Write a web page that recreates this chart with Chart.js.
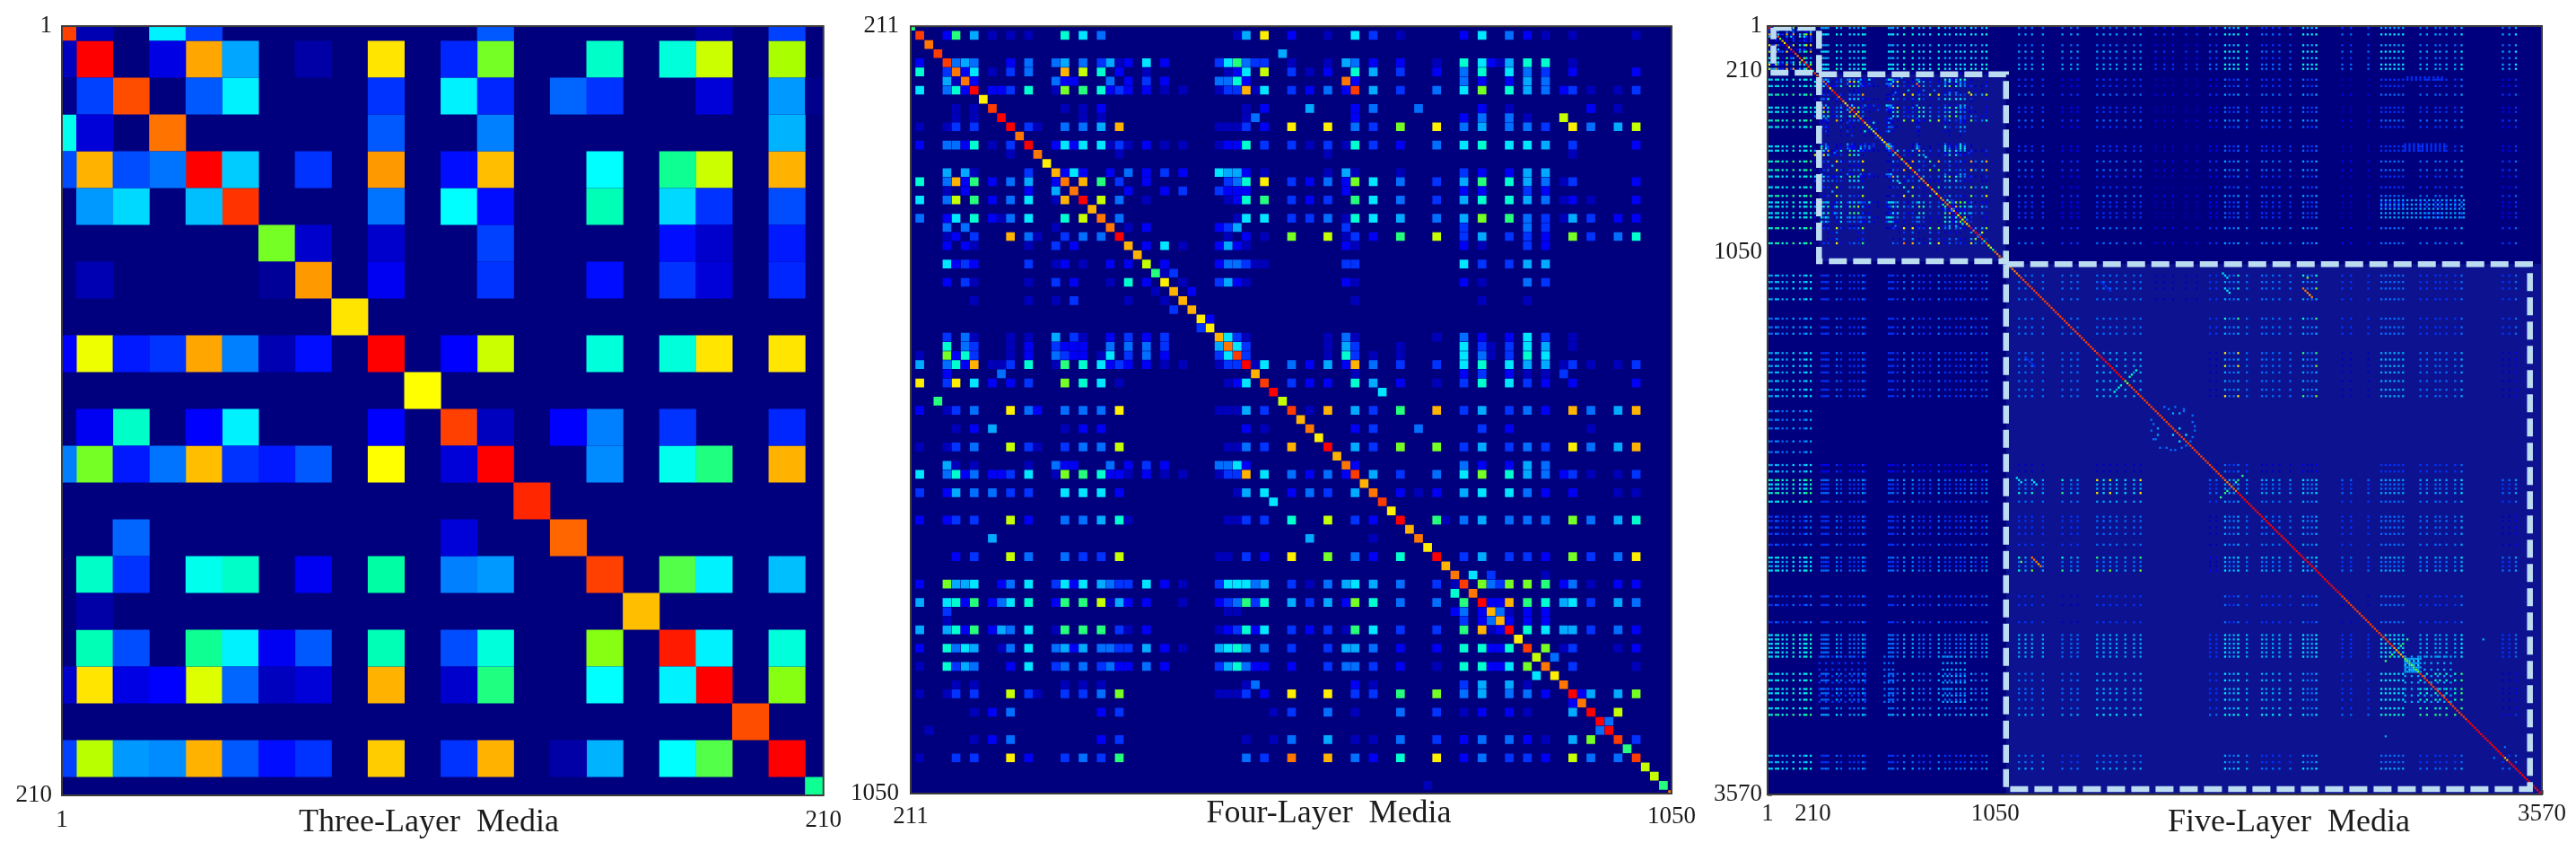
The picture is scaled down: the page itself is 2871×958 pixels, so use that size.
<!DOCTYPE html>
<html>
<head>
<meta charset="utf-8">
<title>Layered media matrices</title>
<script src="https://cdn.jsdelivr.net/npm/chart.js@4"></script>
<style>
  html, body { margin: 0; background: #fff; }
  body { position: relative; width: 2871px; height: 958px; overflow: hidden; }
  canvas { position: absolute; top: 0; filter: blur(0.6px); }
  #five { filter: blur(0.7px); }
</style>
</head>
<body>
<canvas id="three" width="950" height="958" style="left:0"></canvas>
<canvas id="four" width="950" height="958" style="left:950px"></canvas>
<canvas id="five" width="971" height="958" style="left:1900px"></canvas>
<script>
/* tick labels */
const threeTicks = [1, 210];
const fourTicks = [211, 1050];
const fiveTicks = [1, 210, 1050, 3570];

/* Three-layer matrix, one list per row: column, level, column, level ... (levels 0-70) */
const threeLayerRows = [
  [0,65,1,4,2,1,3,29,4,15,9,10,12,17,18,3,20,15],
  [0,5,1,70,2,16,3,8,4,57,5,23,7,3,9,52,11,13,12,42,15,33,16,1,17,32,18,47,20,45,21,1],
  [0,1,1,15,2,64,4,17,5,29,9,14,11,29,12,13,14,18,15,14,17,16,18,7,20,22,21,1],
  [0,31,1,7,3,61,4,16,9,17,12,20,18,10,20,24],
  [0,16,1,56,2,16,3,19,4,70,5,26,6,10,7,14,9,58,11,11,12,55,15,30,17,36,18,47,20,56],
  [0,1,1,22,2,27,4,25,5,66,9,19,11,30,12,11,15,34,17,27,18,14,20,16],
  [4,10,6,42,7,6,9,6,12,15,17,11,18,6,20,12],
  [1,4,4,10,6,2,7,58,9,9,12,14,15,11,17,14,18,7,20,13],
  [8,52],
  [0,10,1,49,2,12,3,14,4,57,5,20,6,4,7,11,9,70,11,10,12,47,15,32,17,32,18,52,20,52],
  [10,50],
  [1,9,2,33,4,10,5,29,9,10,11,65,12,5,14,10,15,20,17,14,20,13],
  [0,20,1,42,2,12,3,19,4,55,5,14,6,12,7,17,9,50,11,7,12,70,15,21,17,31,18,37,20,56],
  [13,67],
  [2,18,11,7,14,62],
  [1,33,2,14,4,31,5,33,7,9,9,35,11,20,12,22,15,65,17,40,18,29,20,25],
  [1,3,16,55,18,1],
  [1,34,2,16,4,36,5,29,6,9,7,17,9,34,11,16,12,32,15,43,17,68,18,29,20,32],
  [0,6,1,52,2,8,3,10,4,48,5,18,6,5,7,7,9,56,11,6,12,37,15,30,17,29,18,70,20,43],
  [19,64],
  [0,15,1,46,2,22,3,21,4,56,5,17,6,11,7,14,9,54,11,14,12,56,14,3,15,24,17,30,18,40,20,70],
  [21,36]
];

/* Four-layer matrix, same layout, levels 0-15 */
const fourLayerRows = [
  [0,8],
  [1,14,4,2,5,8,7,5,9,1,11,1,13,1,17,7,19,6,21,4,36,1,37,5,39,11,42,2,46,1,49,6,51,3,54,1,61,2,63,6,66,4,68,2,70,1,73,1,80,1],
  [2,13],
  [3,14,41,5],
  [1,2,4,14,5,4,6,5,7,4,11,2,13,4,16,4,17,5,19,4,21,3,22,5,23,1,24,2,26,6,28,2,34,3,35,6,36,8,37,4,38,3,39,3,42,1,46,1,48,5,49,4,51,2,54,2,58,1,61,7,63,6,64,2,65,1,66,5,68,7,70,7,73,1],
  [1,7,4,3,5,13,6,2,7,6,9,1,11,3,13,4,17,12,19,10,21,7,23,2,26,1,35,1,36,2,37,6,39,10,42,3,44,1,46,2,49,7,51,5,54,3,58,2,61,4,63,7,66,6,68,4,70,3,73,2,80,2],
  [4,5,5,1,6,13,7,2,16,4,17,2,18,2,22,4,24,2,26,3,28,2,34,4,35,4,36,7,37,2,48,13,49,2,61,4,63,2,66,2,68,5,70,4],
  [1,6,4,4,5,7,6,2,7,15,9,2,10,2,11,3,13,7,16,1,17,9,19,8,21,7,22,2,23,3,24,2,26,2,28,1,30,1,34,1,35,3,36,3,37,12,38,1,39,6,42,3,44,2,46,4,48,2,49,14,51,5,54,3,58,4,61,6,63,9,66,7,68,5,70,4,72,2,73,3,75,1,78,1,80,3],
  [8,11],
  [5,1,7,1,9,14,17,1,19,1,21,2,37,1,39,2,44,5,49,2,51,4,56,4,63,2,66,1,75,2,78,1],
  [5,1,7,1,10,15,19,1,21,1,37,1,38,4,49,2,61,2,63,4,66,4,68,1,72,10],
  [1,1,4,1,5,3,7,3,11,15,13,3,14,1,17,4,19,4,21,5,23,12,34,1,35,1,36,1,37,3,39,2,42,11,46,11,49,4,51,3,54,9,58,11,61,4,63,5,66,4,68,4,70,3,73,11,75,4,78,5,80,10],
  [12,13],
  [1,2,4,4,5,4,6,2,7,7,9,1,11,3,13,15,16,2,17,6,18,2,19,6,21,6,22,1,23,3,24,1,26,2,28,1,30,1,34,1,35,2,36,2,37,7,39,3,42,3,44,1,46,3,48,1,49,7,51,3,54,2,58,4,61,6,63,7,66,6,68,6,70,5,73,3,80,2],
  [11,1,14,13,23,1,46,1,73,1],
  [15,11],
  [4,5,6,5,7,1,13,3,16,12,17,2,18,6,19,2,22,2,24,4,26,2,28,3,30,2,34,6,35,5,36,5,37,2,39,1,46,1,48,5,49,1,54,1,61,3,63,2,66,2,68,5,70,5],
  [1,7,4,4,5,12,6,2,7,8,9,2,11,4,13,5,16,2,17,13,19,12,21,8,23,3,26,2,35,3,36,4,37,7,39,11,42,3,44,2,46,4,48,2,49,9,51,6,54,4,58,3,61,5,63,8,66,7,68,5,70,4,72,1,73,3,80,2],
  [4,1,6,2,13,2,16,5,18,13,24,2,28,2,30,3,34,3,35,2,36,2,37,2,48,2,61,2,63,2,68,3,70,2],
  [1,6,4,4,5,10,7,8,9,2,11,4,13,6,16,1,17,12,19,15,21,10,23,4,26,1,35,1,36,2,37,7,39,8,42,3,44,2,46,3,49,8,51,6,54,4,58,3,61,5,63,7,66,7,68,5,70,4,72,1,73,2,75,1,80,2],
  [20,12],
  [1,4,4,2,5,6,7,7,9,2,10,1,11,4,13,6,17,7,19,10,21,13,23,4,36,1,37,6,39,6,42,3,44,3,46,4,48,1,49,7,51,6,54,5,58,4,61,5,63,9,66,8,68,4,70,3,72,1,73,5,75,3,78,2,80,2],
  [4,4,6,4,16,1,22,13,24,1,26,2,34,2,35,3,36,5,48,3,61,3,68,4,70,3],
  [4,1,5,2,7,3,11,12,13,4,14,1,17,3,19,4,21,4,23,15,35,1,37,2,39,1,42,9,46,10,48,1,49,3,51,2,54,8,58,10,61,3,63,5,66,3,68,3,70,2,73,9,75,3,78,4,80,7],
  [4,2,6,2,7,1,13,1,16,3,18,2,24,12,26,2,28,6,30,1,34,2,35,5,36,2,37,1,48,2,49,1,61,2,63,1,68,3,70,2],
  [25,12],
  [4,6,5,2,6,3,7,2,13,3,16,1,17,2,19,1,22,2,24,2,26,10,28,2,34,2,35,4,36,4,37,3,38,1,39,1,48,3,49,3,61,6,63,3,66,3,68,5,70,5],
  [27,8,28,1,29,3],
  [4,2,6,3,7,1,13,1,16,3,18,2,22,1,24,7,26,2,28,11,30,1,34,3,35,5,36,2,37,1,48,2,49,1,61,2,63,1,68,4,70,3],
  [27,1,29,12,31,2],
  [7,1,13,1,16,1,18,3,24,1,28,1,30,12,49,1,63,1,68,1],
  [29,3,31,12],
  [32,11,33,2],
  [32,3,33,11],
  [4,3,6,4,7,1,11,1,13,1,16,5,18,3,19,1,22,2,24,3,26,2,28,3,34,12,35,6,36,3,37,1,46,1,48,4,49,1,58,1,61,4,63,2,66,2,68,6,70,3,73,1],
  [4,7,6,4,7,3,11,1,13,2,16,3,17,2,18,2,19,2,22,4,24,4,26,4,28,3,34,5,35,13,36,6,37,3,46,1,48,5,49,3,54,1,61,6,63,3,64,1,66,3,68,6,70,5,73,1],
  [1,1,4,9,5,2,6,7,7,3,11,1,13,2,16,4,17,3,18,2,19,2,21,1,22,6,24,3,26,4,28,2,34,3,35,6,36,14,37,3,46,1,48,7,49,3,51,1,54,1,61,6,63,4,64,1,66,3,68,7,70,6],
  [1,5,4,4,5,7,6,2,7,12,9,1,10,1,11,3,13,7,16,1,17,8,19,7,21,6,22,2,23,3,24,2,26,2,28,1,30,1,34,1,35,3,36,3,37,15,38,1,39,6,42,4,44,2,46,5,48,2,49,12,51,4,54,3,58,3,61,6,63,7,66,6,68,5,70,5,72,1,73,3,75,1,78,1,80,3],
  [4,2,10,4,38,12,49,1,61,2,63,3,66,2,68,1,70,1,72,3],
  [1,11,4,3,5,11,7,6,9,2,11,2,13,3,17,9,19,7,21,6,23,1,35,1,36,2,37,6,39,14,42,3,44,2,46,2,49,7,51,5,54,2,58,1,61,3,63,7,66,6,68,3,70,2,73,2,80,2],
  [40,15,52,6],
  [3,8,41,10],
  [1,2,4,1,5,3,7,4,11,11,13,4,14,2,17,4,19,4,21,4,23,11,34,1,35,1,36,1,37,5,39,3,42,14,44,1,46,12,49,5,51,3,54,8,58,12,61,3,63,5,66,3,68,4,70,2,73,12,75,4,78,5,80,12],
  [43,12],
  [5,1,7,2,9,5,17,1,19,2,21,2,37,2,39,1,44,13,49,2,51,3,56,4,63,3,66,2,75,1],
  [45,11],
  [1,1,4,1,5,3,7,4,11,10,13,3,14,1,17,3,19,4,21,4,23,10,35,1,36,1,37,4,39,3,42,12,46,15,49,5,51,3,54,9,58,9,61,3,63,5,66,3,68,4,70,3,73,11,75,4,78,5,80,12],
  [47,12],
  [4,5,5,1,7,1,13,1,16,4,17,2,18,2,22,4,24,2,26,3,28,2,34,4,35,4,36,6,37,2,48,13,49,2,61,4,63,2,66,2,68,5,70,4],
  [1,6,4,4,5,7,6,2,7,4,9,2,10,2,11,3,13,6,16,1,17,9,19,8,21,7,22,2,23,2,24,1,26,2,28,1,30,1,34,1,35,3,36,3,37,12,39,6,42,4,44,2,46,4,48,2,49,14,51,5,54,3,58,4,61,6,63,9,66,7,68,5,70,4,72,2,73,3,75,1,78,1,80,3],
  [50,12],
  [1,3,4,2,5,5,7,4,9,4,11,3,13,3,17,6,19,6,21,6,23,2,36,1,37,5,39,6,42,2,44,4,46,3,49,5,51,13,54,2,56,1,58,2,61,5,63,6,66,6,68,4,70,2,73,2,78,1,80,1],
  [40,6,52,14],
  [53,11],
  [1,2,4,2,5,3,7,3,11,10,13,2,17,4,19,4,21,5,23,7,24,1,35,1,36,1,37,3,39,3,42,7,46,10,49,3,51,2,54,15,58,8,59,1,61,4,63,5,66,4,68,4,70,4,73,9,75,4,78,5,80,7],
  [55,12],
  [9,5,44,5,51,1,56,13],
  [57,11],
  [5,2,7,3,11,10,13,4,17,4,19,3,21,3,23,10,34,1,35,1,37,3,39,2,42,11,46,9,49,4,51,2,54,7,58,15,61,3,63,5,66,3,68,3,70,2,73,9,75,3,78,4,80,11],
  [59,12],
  [60,13,62,6,64,3,70,1],
  [1,2,4,9,5,5,6,5,7,6,10,2,11,4,13,6,16,3,17,6,18,2,19,6,21,5,22,4,23,3,24,3,26,6,28,2,30,1,34,3,35,6,36,6,37,6,38,4,39,5,42,3,44,1,46,4,48,5,49,6,51,5,54,4,58,3,60,1,61,14,63,9,64,4,65,3,66,9,68,9,70,8,72,2,73,4,75,1,78,2,80,2],
  [60,7,62,13],
  [1,5,4,6,5,7,6,2,7,8,9,2,10,4,11,6,13,7,16,2,17,8,19,8,21,10,22,1,23,5,24,2,26,2,30,1,34,2,35,3,36,4,37,8,38,3,39,7,42,5,44,3,46,5,48,2,49,9,51,7,54,4,58,4,61,8,63,15,64,2,65,2,66,12,68,8,70,7,72,5,73,6,75,3,78,5,80,4],
  [4,3,35,1,36,1,60,2,61,4,63,2,64,12,65,4,66,1,68,2,70,2],
  [4,1,61,3,63,2,64,4,65,12,66,2,68,2,70,2],
  [1,5,4,5,5,7,6,2,7,8,9,2,10,5,11,4,13,6,16,1,17,8,19,8,21,8,23,3,24,1,26,2,34,1,35,2,36,3,37,7,38,2,39,6,42,3,44,2,46,3,48,1,49,8,51,6,54,3,58,3,61,8,63,12,64,1,65,2,66,15,68,7,70,6,72,5,73,5,75,3,78,4,80,2],
  [67,11],
  [1,2,4,7,5,4,6,6,7,5,10,1,11,4,13,6,16,4,17,5,18,2,19,5,21,4,22,4,23,3,24,3,26,5,28,2,30,1,34,5,35,6,36,7,37,5,39,4,42,3,46,3,48,5,49,5,51,4,54,2,58,2,61,7,63,7,64,2,65,2,66,7,68,14,70,9,72,1,73,3,78,1,80,2],
  [69,10,71,4],
  [1,1,4,7,5,3,6,5,7,4,11,2,13,6,16,3,17,4,19,4,21,3,22,4,23,2,24,2,26,4,28,2,34,3,35,5,36,7,37,4,38,2,39,2,42,2,46,3,48,4,49,4,51,3,54,2,58,1,61,7,63,7,64,2,65,2,66,6,68,9,70,13,73,3,80,1],
  [69,6,71,11],
  [5,1,7,1,17,1,19,1,21,1,37,1,38,4,49,2,51,1,61,3,63,5,66,5,68,1,72,13],
  [1,1,4,1,5,3,7,3,11,10,13,3,14,1,17,3,19,3,21,4,23,9,34,1,35,1,36,1,37,3,39,2,42,11,46,11,49,3,51,3,54,8,58,9,61,4,63,5,66,4,68,4,70,2,73,15,74,2,75,5,78,5,80,9],
  [73,2,74,13],
  [7,1,9,2,11,4,21,2,23,3,40,1,42,3,46,4,49,1,54,4,58,3,61,1,63,2,66,2,68,1,73,5,75,15,78,10],
  [76,15,77,4],
  [2,1,76,4,77,15],
  [7,1,9,2,11,4,21,2,23,3,37,1,40,1,42,4,46,5,49,1,51,1,54,4,58,3,61,2,63,4,66,4,68,2,70,1,73,5,75,9,78,14,80,3],
  [79,8],
  [1,1,5,3,7,3,11,11,13,2,17,3,19,4,21,3,23,8,37,4,39,3,42,13,46,12,49,4,51,2,54,7,58,11,61,2,63,4,66,3,68,3,70,2,73,10,75,4,78,4,80,14],
  [81,10],
  [82,10],
  [57,1,83,8],
  [84,13]
];

/* Five-layer matrix: layer 1 and 2 blocks repeat the two matrices above.
   The rest is read as stripes: index groups and one level per group pair */
const fiveOneRows = [1,4,9,12,15,18,20];
const fiveOneCols = [1,2,4,5,7,9,12,15,17,18,20];
const fiveTwoRows = [25,28,32,38,40,44,47,56,58,63,67,70,75,79,82,84,87,89,94,101];
const fiveTwoCols = [25,26,27,28,32,34,38,40,42,44,45,56,57,58,60,63,67,70,72,75,79,82,84,87,89,91,94,96,99,101];
const fiveA = [116,119,122,127];
const fiveB = [136,140,143];
const fiveC = [152,155,158,161,165,169,172];
const fiveD = [179,183,187,193,198];
const fiveE = [204,207];
const fiveF = [211,213,215,217,221];
const fiveG = [228,230,233,236,241];
const fiveH = [247,249,251,253];
const fiveI = [265,269,277];
const fiveJ = [283,285,287,289,291,293];
const fiveK = [301,304,308,310,313,317,320];
const fiveL = [339,342,345];
/* rows: one, two, A..L; same column order */
const fiveLevels = [
  [0,5,4,4,4,2,3,5,3,5,3,5,4,4],
  [6,0,3,2,3,1,2,3,3,3,1,3,3,2],
  [5,3,4,4,4,1,3,4,4,4,3,4,3,3],
  [4,3,4,4,4,0,3,4,4,4,3,4,3,3],
  [5,3,4,4,5,0,1,4,4,4,1,5,4,1],
  [4,0,0,0,0,0,0,0,0,0,0,0,0,0],
  [5,2,1,0,1,0,1,3,1,1,0,3,3,0],
  [6,3,4,4,5,0,3,4,4,4,3,4,4,3],
  [3,3,3,3,4,0,1,4,4,4,3,4,4,1],
  [5,3,4,4,4,0,1,4,4,4,3,4,4,3],
  [3,3,3,1,3,0,0,3,3,3,1,4,3,0],
  [6,4,5,4,5,0,3,5,5,5,3,6,5,3],
  [6,4,4,4,5,0,3,5,5,4,3,6,7,1],
  [5,3,4,3,4,0,0,4,3,4,0,4,3,3]
];
/* indices whose whole row and column read brighter */
const fiveBright = [4,12,18,20,32,44,63,67,79,94,101,211,217,247,253,320,345];
/* single spots, row, column, level; used both ways round the diagonal */
const fiveSpots = [
  152,211,11, 152,217,11, 158,211,10, 158,217,11, 172,211,11, 172,217,11,
  116,211,7, 116,217,7, 122,211,7, 122,217,7, 116,247,7, 116,253,7, 122,247,10, 122,253,7,
  136,211,7, 136,217,8, 136,247,7, 136,253,8, 152,247,8, 152,253,8, 158,253,9, 172,247,8, 172,253,9,
  122,247,13, 123,248,13, 124,249,13, 125,250,12, 126,251,13,
  115,210,6, 116,211,6, 117,212,6, 122,211,6, 123,212,6, 124,213,6,
  154,119,3, 155,120,3, 156,121,3, 157,122,3, 158,123,3,
  160,170,7, 162,168,7, 163,167,7, 167,163,7, 168,162,7, 170,160,7,
  285,295,8, 287,293,8, 288,292,8, 292,288,8, 293,287,8, 295,285,8,
  209,219,8, 211,217,8, 212,216,8, 216,212,8, 217,211,8, 219,209,8,
  178,185,4, 180,180,4, 183,177,4, 188,177,4, 192,179,4, 196,184,4, 197,188,4, 195,193,4, 191,196,4, 186,197,4, 181,196,4, 178,192,4,
  183,183,6, 187,180,5, 180,190,5, 190,187,6, 193,190,6,
  247,122,13, 249,117,9, 253,122,9, 330,285,5, 335,340,4
];
/* dense rectangles: first row, last row, first column, last column, row step, column step, level */
const fivePatches = [
  294,300, 294,301, 2,1, 5,
  295,299, 294,300, 2,2, 6,
  24,25, 295,312, 1,2, 3,
  55,58, 294,312, 1,2, 3,
  81,90, 283,322, 2,2, 5,
  293,315, 24,46, 3,3, 3,
  293,315, 54,59, 3,2, 4,
  293,315, 81,92, 3,2, 5,
  293,316, 294,316, 3,3, 5
];
/* diagonal runs outside the first two blocks: first, last, level */
const fiveDiagonal = [
  106,116,13, 117,152,14, 153,164,15, 165,166,9, 167,210,14, 211,216,13, 217,264,15, 265,288,14,
  289,293,12, 294,300,9, 301,322,14, 323,339,15, 340,341,12, 342,357,15
];
/* dashed frames and tinted blocks, axis units: left, top, right, bottom */
const fiveFrames = [
  [28, 9, 238, 218],
  [238, 225, 1100, 1093],
  [1100, 1107, 3515, 3545]
];
const fiveTints = [
  [238, 225, 1100, 1093],
  [1100, 1107, 3570, 3570]
];

function jet(level, top) {
  const t = level / top * 0.875;
  const part = v => Math.round(255 * Math.max(0, Math.min(1, v)));
  const r = part(Math.min((t - 0.44) / 0.185, -4 * t + 4.5));
  const g = part(Math.min(4 * t - 0.5, -4 * t + 3.5));
  const b = part(Math.min(4 * t + 0.5, (0.55 - t) / 0.175));
  return 'rgb(' + r + ',' + g + ',' + b + ')';
}

/* One scatter dataset per level, so the colour stays a plain option */
function cellDatasets(cells, top, radius) {
  const byLevel = new Map();
  cells.forEach(c => {
    if (!byLevel.has(c.level)) byLevel.set(c.level, []);
    byLevel.get(c.level).push({x: c.col * 10, y: c.row * 10});
  });
  return [...byLevel.keys()].sort((a, b) => a - b).map(level => ({
    data: byLevel.get(level),
    parsing: false,
    order: 10 + level / 100,
    clip: 0,
    pointStyle: 'rect',
    pointRadius: radius,
    pointBorderWidth: 0,
    pointBackgroundColor: jet(level, top),
    showLine: false
  }));
}

function rowsToCells(rows, offset) {
  const cells = [];
  rows.forEach((list, row) => {
    for (let i = 0; i < list.length; i += 2) {
      cells.push({row: row + offset, col: list[i] + offset, level: list[i + 1]});
    }
  });
  return cells;
}

function fiveCells() {
  const cells = new Map();
  const put = (row, col, level) => {
    if (level > 0 && row >= 0 && col >= 0 && row <= 357 && col <= 357) {
      cells.set(row * 1000 + col, {row: row, col: col, level: Math.min(15, level)});
    }
  };
  const groups = [fiveA, fiveB, fiveC, fiveD, fiveE, fiveF, fiveG, fiveH, fiveI, fiveJ, fiveK, fiveL];
  const rowGroups = [fiveOneRows, fiveTwoRows].concat(groups);
  const colGroups = [fiveOneCols, fiveTwoCols].concat(groups);
  rowGroups.forEach((rows, g) => colGroups.forEach((cols, h) => {
    if (!fiveLevels[g][h]) return;
    rows.forEach(r => cols.forEach(c => {
      const boost = (fiveBright.includes(r) ? 1 : 0) + (fiveBright.includes(c) ? 1 : 0);
      put(r, c, fiveLevels[g][h] + boost);
    }));
  }));
  for (let i = 0; i < fivePatches.length; i += 7) {
    const p = fivePatches.slice(i, i + 7);
    for (let r = p[0]; r <= p[1]; r += p[4]) {
      for (let c = p[2]; c <= p[3]; c += p[5]) put(r, c, p[6]);
    }
  }
  /* panel 1 is on a 0-70 scale, the rest on 0-15 */
  rowsToCells(threeLayerRows, 0).forEach(c => put(c.row, c.col, Math.round(c.level * 15 / 70)));
  rowsToCells(fourLayerRows, 21).forEach(c => put(c.row, c.col, c.level));
  for (let i = 0; i < fiveSpots.length; i += 3) {
    put(fiveSpots[i], fiveSpots[i + 1], fiveSpots[i + 2]);
    put(fiveSpots[i + 1], fiveSpots[i], fiveSpots[i + 2]);
  }
  for (let i = 0; i < fiveDiagonal.length; i += 3) {
    for (let d = fiveDiagonal[i]; d <= fiveDiagonal[i + 1]; d++) put(d, d, fiveDiagonal[i + 2]);
  }
  return [...cells.values()];
}

function frameDatasets() {
  const lines = fiveFrames.map(f => ({
    data: [{x: f[0], y: f[1]}, {x: f[2], y: f[1]}, {x: f[2], y: f[3]}, {x: f[0], y: f[3]}, {x: f[0], y: f[1]}],
    parsing: false,
    order: 1,
    clip: 0,
    showLine: true,
    pointRadius: 0,
    borderColor: '#bcdcf2',
    borderWidth: 6.5,
    borderDash: [20, 7],
    borderCapStyle: 'butt'
  }));
  const tints = fiveTints.map(f => ({
    data: [{x: f[0], y: f[1]}, {x: f[2], y: f[1]}],
    parsing: false,
    order: 30,
    clip: 0,
    showLine: true,
    pointRadius: 0,
    borderWidth: 0,
    fill: {value: f[3]},
    backgroundColor: 'rgba(30,45,170,0.42)'
  }));
  return lines.concat(tints);
}

/* navy plot ground, frame and the caption that sits off the axis centre */
const matrixPlugin = {
  id: 'matrixPanel',
  beforeDatasetsDraw(chart) {
    const a = chart.chartArea;
    chart.ctx.save();
    chart.ctx.fillStyle = '#00007f';
    chart.ctx.fillRect(a.left, a.top, a.right - a.left, a.bottom - a.top);
    chart.ctx.restore();
  },
  afterDraw(chart, args, opts) {
    const a = chart.chartArea, ctx = chart.ctx;
    ctx.save();
    ctx.strokeStyle = '#3c3c3c';
    ctx.lineWidth = 2;
    ctx.strokeRect(a.left, a.top, a.right - a.left, a.bottom - a.top);
    ctx.fillStyle = '#1c1c1c';
    ctx.font = '36px "Liberation Serif"';
    ctx.textAlign = 'center';
    ctx.textBaseline = 'middle';
    ctx.fillText(opts.caption, opts.captionX, opts.captionY);
    ctx.restore();
  }
};

function axis(min, max, ticks, reverse, size, pad, inner) {
  return {
    type: 'linear',
    min: min,
    max: max,
    reverse: reverse,
    afterBuildTicks: scale => { scale.ticks = ticks.map(v => ({value: v})); },
    afterFit: scale => {
      if (scale.isHorizontal()) scale.height = size; else scale.width = size;
    },
    border: {display: false},
    grid: {
      display: inner,
      drawOnChartArea: false,
      drawTicks: inner,
      tickLength: -5,
      tickWidth: 2,
      color: '#101010'
    },
    ticks: {
      autoSkip: false,
      maxRotation: 0,
      padding: pad,
      color: '#1c1c1c',
      font: {family: 'Liberation Serif', size: 27},
      callback: v => String(v)
    }
  };
}

function matrixChart(id, p, datasets) {
  const canvas = document.getElementById(id);
  return new Chart(canvas, {
    type: 'scatter',
    data: {datasets: datasets},
    plugins: [matrixPlugin],
    options: {
      responsive: false,
      animation: false,
      events: [],
      layout: {padding: {left: 0, top: p.top, right: canvas.width - p.right, bottom: 0}},
      plugins: {
        legend: {display: false},
        tooltip: {enabled: false},
        matrixPanel: {caption: p.caption, captionX: p.captionX, captionY: p.captionY}
      },
      scales: {
        x: axis(p.min, p.max, p.ticks, false, canvas.height - p.bottom, p.padX, p.inner),
        y: axis(p.min, p.max, p.ticks, true, p.left, p.padY, p.inner)
      }
    }
  });
}

matrixChart('three', {
  left: 69, right: 925, top: 29, bottom: 886,
  min: 1, max: 210, ticks: threeTicks, padX: 12, padY: 11, inner: false,
  caption: 'Three-Layer  Media', captionX: 478, captionY: 917
}, cellDatasets(rowsToCells(threeLayerRows, 0), 70, 856 / 21 / Math.SQRT2 + 0.25));

matrixChart('four', {
  left: 65, right: 920, top: 28, bottom: 884,
  min: 211, max: 1050, ticks: fourTicks, padX: 10, padY: 13, inner: false,
  caption: 'Four-Layer  Media', captionX: 531, captionY: 907
}, cellDatasets(rowsToCells(fourLayerRows, 0).map(c => ({row: c.row + 21.1, col: c.col + 21.1, level: c.level})), 15, 855 / 84 / Math.SQRT2 * 0.95));

matrixChart('five', {
  left: 70, right: 934, top: 29, bottom: 885,
  min: 1, max: 3570, ticks: fiveTicks, padX: 11, padY: 11, inner: true,
  caption: 'Five-Layer  Media', captionX: 651, captionY: 917
}, frameDatasets().concat(cellDatasets(fiveCells(), 15, 864 / 357 / Math.SQRT2 * 0.95)));
</script>
</body>
</html>
